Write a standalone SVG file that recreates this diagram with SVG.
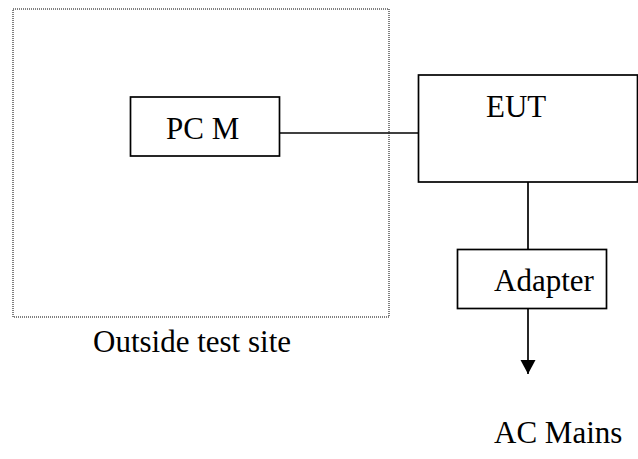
<svg xmlns="http://www.w3.org/2000/svg" width="638" height="459" viewBox="0 0 638 459">
<style>
.box{fill:#fff;stroke:#000;stroke-width:1.7}
.t{font-family:'Liberation Serif','Times New Roman',Times,serif;font-size:31px;fill:#000}
.c{stroke:#000;stroke-width:1.7;fill:none}
</style>
<defs>
<marker id="ah" markerWidth="16" markerHeight="16" refX="14" refY="7.5" orient="auto" markerUnits="userSpaceOnUse">
<path d="M0,0 L14,7.5 L0,15 Z" fill="#000"/>
</marker>
</defs>
<rect width="638" height="459" fill="#fff"/>
<g id="outside-site">
<rect x="13" y="9" width="376" height="308" fill="none" stroke="#000" stroke-width="1" stroke-dasharray="1,1"/>
<text class="t" x="93" y="352" font-family="Liberation Serif">Outside test site</text>
</g>
<g id="connectors">
<line class="c" x1="280" y1="133" x2="418" y2="133"/>
<line class="c" x1="528" y1="182" x2="528" y2="249"/>
<line class="c" x1="528" y1="309" x2="528" y2="374" marker-end="url(#ah)"/>
</g>
<g id="pcm">
<rect class="box" x="130.5" y="97" width="149" height="59"/>
<text class="t" x="166" y="139" font-family="Liberation Serif">PC M</text>
</g>
<g id="eut">
<rect class="box" x="418.5" y="75" width="219" height="107"/>
<text class="t" x="486" y="117" font-family="Liberation Serif">EUT</text>
</g>
<g id="adapter">
<rect class="box" x="457.5" y="249.5" width="149" height="59"/>
<text class="t" x="494" y="291" font-family="Liberation Serif">Adapter</text>
</g>
<g id="ac-mains">
<text class="t" x="494" y="443" font-family="Liberation Serif">AC Mains</text>
</g>
</svg>
